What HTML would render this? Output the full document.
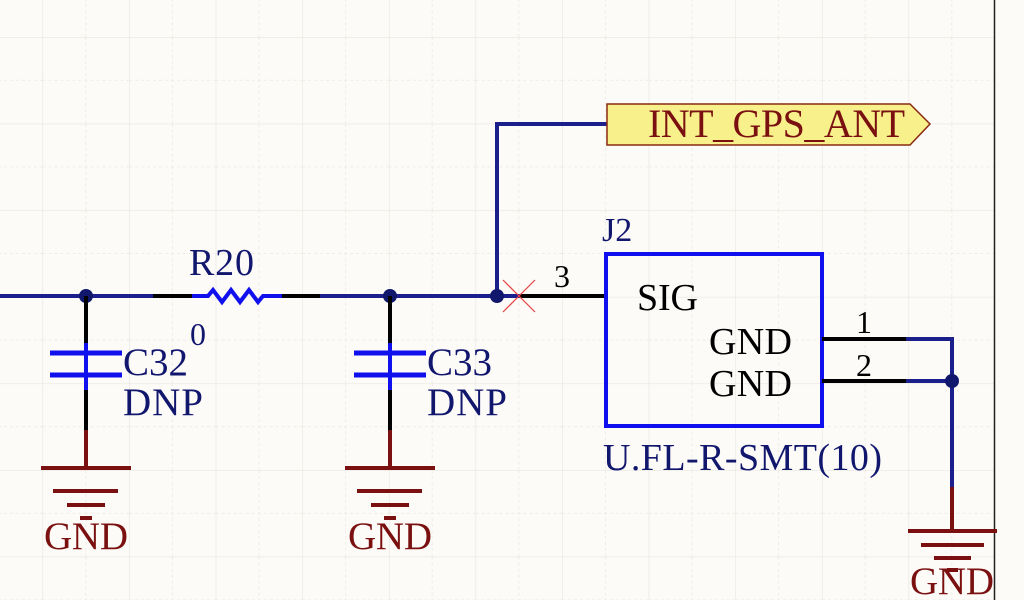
<!DOCTYPE html>
<html><head><meta charset="utf-8"><style>
html,body{margin:0;padding:0;background:#fcfbf8;}
svg{display:block;}
text{font-family:"Liberation Serif",serif;}
</style></head><body>
<svg width="1024" height="600" viewBox="0 0 1024 600" xmlns="http://www.w3.org/2000/svg">
<defs>
<pattern id="g" x="42.5" y="37" width="86.6" height="86.6" patternUnits="userSpaceOnUse">
<path d="M0 0V86.6M0 0H86.6" stroke="#e9e6e0" stroke-width="1.3" fill="none"/>
<path d="M43.3 0V86.6M0 43.3H86.6" stroke="#efece7" stroke-width="1" stroke-dasharray="3 3" fill="none"/>
</pattern>
</defs>
<rect width="1024" height="600" fill="#fcfbf8"/>
<rect width="994" height="600" fill="url(#g)"/>
<line x1="994.5" y1="0" x2="994.5" y2="600" stroke="#222" stroke-width="1.5"/>

<g stroke-width="4" fill="none">
<line x1="0" y1="296" x2="153" y2="296" stroke="#1a1f8c"/>
<line x1="153" y1="296" x2="192" y2="296" stroke="#000"/>
<polyline points="192,296 208,296 213,290 222,302 231,290 240,302 249,290 258,302 263,296 282,296" stroke="#1010ee"/>
<line x1="282" y1="296" x2="320" y2="296" stroke="#000"/>
<line x1="320" y1="296" x2="520" y2="296" stroke="#1a1f8c"/>
<line x1="520" y1="296" x2="607" y2="296" stroke="#000"/>
<polyline points="497,296 497,124 607,124" stroke="#1a1f8c"/>
</g>
<g fill="#12176e">
<circle cx="86" cy="296" r="7"/><circle cx="390" cy="296" r="7"/><circle cx="497" cy="296" r="7"/>
</g>
<g stroke="#e84040" stroke-width="1.2"><line x1="503" y1="280" x2="535" y2="312"/><line x1="503" y1="312" x2="535" y2="280"/></g>

<text x="189" y="275" font-size="38" fill="#12176e" textLength="65">R20</text>
<text x="190" y="345" font-size="32" fill="#12176e">0</text>

<g id="cap">
<line x1="86" y1="296" x2="86" y2="343" stroke="#000" stroke-width="4"/>
<line x1="86" y1="343" x2="86" y2="390" stroke="#1010ee" stroke-width="4"/>
<line x1="50" y1="353" x2="122" y2="353" stroke="#1010ee" stroke-width="5"/>
<line x1="50" y1="375" x2="122" y2="375" stroke="#1010ee" stroke-width="5"/>
<line x1="86" y1="390" x2="86" y2="430" stroke="#000" stroke-width="4"/>
<line x1="86" y1="430" x2="86" y2="468" stroke="#7a1010" stroke-width="4"/>
<g stroke="#7a1010" stroke-width="4"><line x1="41" y1="468" x2="131" y2="468"/><line x1="53" y1="491" x2="118" y2="491"/><line x1="67" y1="505" x2="105" y2="505"/><line x1="80" y1="518" x2="92" y2="518"/></g>
<text x="44" y="549" font-size="39" fill="#7a1010" textLength="84">GND</text>
</g>
<use href="#cap" x="304"/>
<text x="123" y="375" font-size="39" fill="#12176e" textLength="65">C32</text>
<text x="123" y="415" font-size="39" fill="#12176e" textLength="80">DNP</text>
<text x="427" y="375" font-size="39" fill="#12176e" textLength="65">C33</text>
<text x="427" y="415" font-size="39" fill="#12176e" textLength="80">DNP</text>

<polygon points="607,104 910,104 930,124 910,145 607,145" fill="#f8f08a" stroke="#8a2a10" stroke-width="1.5"/>
<text x="648" y="137" font-size="40" fill="#7a1010" textLength="257">INT_GPS_ANT</text>

<text x="602" y="241" font-size="34" fill="#12176e">J2</text>
<text x="554" y="287" font-size="32" fill="#000">3</text>
<rect x="606" y="254" width="216" height="172" fill="none" stroke="#1010ee" stroke-width="4"/>
<text x="637" y="310" font-size="38" fill="#000" textLength="61">SIG</text>
<text x="709" y="354" font-size="38" fill="#000" textLength="83">GND</text>
<text x="709" y="396" font-size="38" fill="#000" textLength="83">GND</text>
<text x="603" y="470" font-size="38" fill="#12176e" textLength="279">U.FL-R-SMT(10)</text>
<text x="856" y="333" font-size="32" fill="#000">1</text>
<text x="856" y="376" font-size="32" fill="#000">2</text>
<g stroke-width="4" fill="none">
<line x1="822" y1="339" x2="906" y2="339" stroke="#000"/>
<line x1="822" y1="381" x2="906" y2="381" stroke="#000"/>
<polyline points="906,339 952,339 952,487" stroke="#1a1f8c"/>
<line x1="906" y1="381" x2="952" y2="381" stroke="#1a1f8c"/>
<line x1="952" y1="487" x2="952" y2="531" stroke="#7a1010"/>
</g>
<circle cx="952" cy="381" r="7" fill="#12176e"/>
<g stroke="#7a1010" stroke-width="4"><line x1="908" y1="531" x2="997" y2="531"/><line x1="921" y1="545" x2="984" y2="545"/><line x1="934" y1="558" x2="971" y2="558"/><line x1="947" y1="570" x2="958" y2="570"/></g>
<text x="910" y="594" font-size="39" fill="#7a1010" textLength="84">GND</text>
</svg>
</body></html>
